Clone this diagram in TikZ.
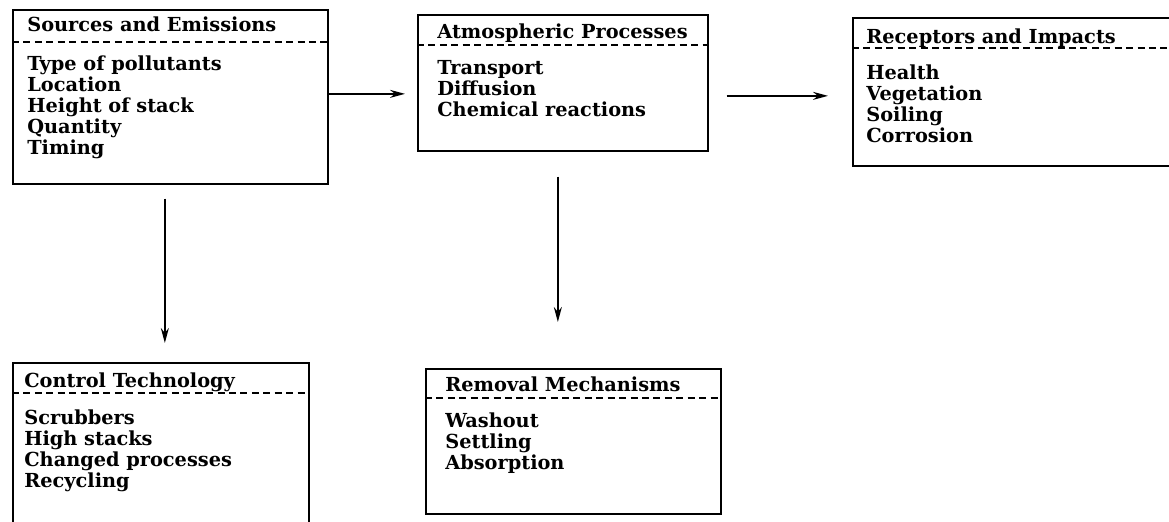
\documentclass[tikz,border=0pt]{standalone}
\usepackage{fontspec}
\setmainfont{DejaVu Serif}
\usetikzlibrary{positioning, arrows.meta, calc}

\begin{document}
\begin{tikzpicture}[
    x=0.02cm, y=-0.02cm,
    panel/.style={rectangle, draw, line width=1pt, anchor=north west, inner sep=0pt},
    heading/.style={anchor=base west, inner sep=0pt, font=\bfseries\fontsize{11}{12}\selectfont},
    items/.style={anchor=north west, inner sep=0pt, align=left, font=\bfseries\fontsize{11}{12}\selectfont},
    divider/.style={line width=0.7pt, dash pattern=on 4pt off 2.5pt},
    flow/.style={-{Stealth[length=3mm, width=1.6mm]}, line width=1pt}
]
\useasboundingbox (0,0) rectangle (1169,521);

% Panels
\node[panel, minimum width=6.3cm, minimum height=3.48cm] (src) at (12,9) {};
\node[panel, minimum width=5.8cm, minimum height=2.72cm] (atm) at (417,14) {};
\node[panel, minimum width=6.8cm, minimum height=2.96cm] (rec) at (852,17) {};
\node[panel, minimum width=5.92cm, minimum height=4.0cm] (ctl) at (12,362) {};
\node[panel, minimum width=5.9cm, minimum height=2.9cm] (rem) at (425,368) {};

% Headings
\node[heading] (srcT) at ($(src.north west)+(15,22)$) {Sources and Emissions};
\node[heading] (atmT) at ($(atm.north west)+(20,24)$) {Atmospheric Processes};
\node[heading] (recT) at ($(rec.north west)+(14,26)$) {Receptors and Impacts};
\node[heading] (ctlT) at ($(ctl.north west)+(12,25)$) {Control Technology};
\node[heading] (remT) at ($(rem.north west)+(20,23)$) {Removal Mechanisms};

% Dashed dividers
\draw[divider] ($(src.north west)+(0,33)$) -- ($(src.north east)+(0,33)$);
\draw[divider] ($(atm.north west)+(0,31)$) -- ($(atm.north east)+(0,31)$);
\draw[divider] ($(rec.north west)+(0,31)$) -- ($(rec.north east)+(0,31)$);
\draw[divider] ($(ctl.north west)+(0,31)$) -- ($(ctl.north east)+(0,31)$);
\draw[divider] ($(rem.north west)+(0,30)$) -- ($(rem.north east)+(0,30)$);

% Item lists
\node[items] (srcL) at ($(src.north west)+(15,46)$) {Type of pollutants\\Location\\Height of stack\\Quantity\\Timing};
\node[items] (atmL) at ($(atm.north west)+(20,46)$) {Transport\\Diffusion\\Chemical reactions};
\node[items] (recL) at ($(rec.north west)+(14,47)$) {Health\\Vegetation\\Soiling\\Corrosion};
\node[items] (ctlL) at ($(ctl.north west)+(12,47)$) {Scrubbers\\High stacks\\Changed processes\\Recycling};
\node[items] (remL) at ($(rem.north west)+(20,44)$) {Washout\\Settling\\Absorption};

% Arrows
\draw[flow, shorten >=0.24cm] ([yshift=0.06cm]src.east) -- ([yshift=0.06cm]src.east -| atm.west);
\draw[flow, shorten <=0.36cm, shorten >=0.48cm] ([yshift=-0.26cm]atm.east) -- ([yshift=-0.26cm]atm.east -| rec.west);
\draw[flow, shorten <=0.28cm, shorten >=0.38cm] ([xshift=-0.11cm]src.south) -- ([xshift=-0.11cm]src.south |- ctl.north);
\draw[flow, shorten <=0.5cm, shorten >=0.92cm] ([xshift=-0.1cm]atm.south) -- ([xshift=-0.1cm]atm.south |- rem.north);

\end{tikzpicture}
\end{document}
